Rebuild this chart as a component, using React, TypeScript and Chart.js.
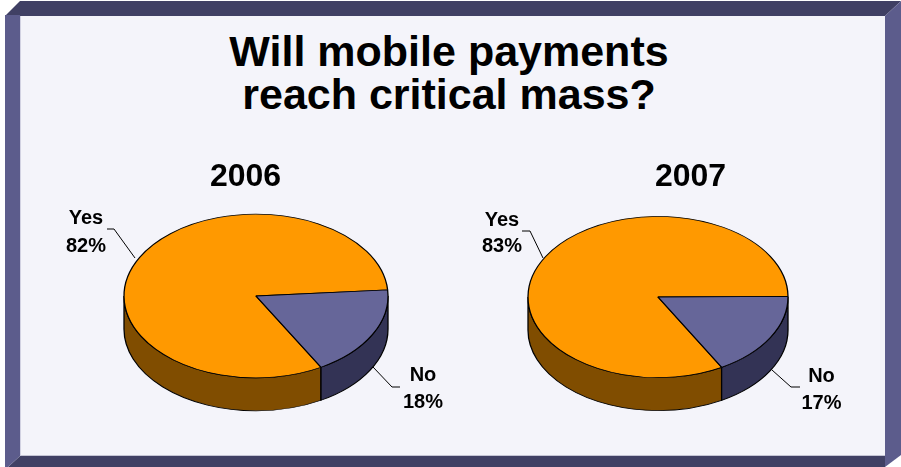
import React, { useEffect, useRef } from "react";
import { Chart, registerables } from "chart.js";

Chart.register(...registerables);

const categories = ["Yes", "No"];
const years = ["2006", "2007"];
const values2006 = [82, 18];
const values2007 = [83, 17];
const sliceColors = ["#ff9900", "#666699"];
const sideColors = ["#804d00", "#333355"];

const FONT = '"Liberation Sans", Arial, sans-serif';
const TILT = 0.62;
const DEPTH = 33;
const RADIUS = [132, 130];
const ROTATION = [150.5, 150.7];
const CANVAS = { width: 400, height: 300, top: 150 };
const CANVAS_LEFT = [56, 458];
const PAD_TOP = 44.4;
const PAD_BOTTOM = [52.4, 50.4];
const YEAR_CENTER = [245.5, 690.5];

type Callout = { line: number[][]; text: number[] };

// Leader lines and label anchors for each slice, in canvas pixels.
const CALLOUTS: Callout[][] = [
  [
    { line: [[79, 108], [58, 79], [51, 79]], text: [30, 68, 96] },
    { line: [[317, 217], [336, 237], [344, 237]], text: [367, 225, 252] },
  ],
  [
    { line: [[85, 108], [72, 81], [64, 81]], text: [44, 70, 96] },
    { line: [[314, 220], [333, 237], [342, 237]], text: [363.5, 226, 253] },
  ],
];

function overlap(a0: number, a1: number, b0: number, b1: number) {
  const lo = Math.max(a0, b0);
  const hi = Math.min(a1, b1);
  return hi > lo ? [lo, hi] : null;
}

// Flattens the pie into an ellipse and extrudes its lower rim.
const tiltedPie = {
  id: "tiltedPie",
  beforeDatasetsDraw(chart: any) {
    const { ctx } = chart;
    const arcs = chart.getDatasetMeta(0).data;
    const { x, y, outerRadius: r } = arcs[0];
    ctx.save();
    ctx.translate(x, y);
    ctx.scale(1, TILT);
    ctx.translate(-x, -y);

    arcs.forEach((arc: any, i: number) => {
      let start = arc.startAngle % (Math.PI * 2);
      if (start < 0) start += Math.PI * 2;
      const end = start + (arc.endAngle - arc.startAngle);
      [0, Math.PI * 2, -Math.PI * 2].forEach((shift) => {
        const seg = overlap(start + shift, end + shift, 0, Math.PI);
        if (!seg) return;
        ctx.beginPath();
        ctx.arc(x, y, r, seg[0], seg[1]);
        ctx.lineTo(x + r * Math.cos(seg[1]), y + r * Math.sin(seg[1]) + DEPTH / TILT);
        ctx.arc(x, y + DEPTH / TILT, r, seg[1], seg[0], true);
        ctx.closePath();
        ctx.fillStyle = sideColors[i];
        ctx.fill();
        ctx.lineWidth = 1.3;
        ctx.strokeStyle = "#000";
        ctx.stroke();
      });
    });
  },
  afterDatasetsDraw(chart: any) {
    chart.ctx.restore();
  },
};

// Leader lines and the two-line category and percentage labels.
const callouts = {
  id: "callouts",
  afterDraw(chart: any, _args: any, opts: any) {
    const { ctx } = chart;
    const values = chart.data.datasets[0].data;
    ctx.save();
    chart.data.labels.forEach((label: string, i: number) => {
      const c: Callout = opts.items[i];
      ctx.beginPath();
      c.line.forEach(([px, py], k) => (k ? ctx.lineTo(px, py) : ctx.moveTo(px, py)));
      ctx.strokeStyle = "#000";
      ctx.lineWidth = 1;
      ctx.stroke();
      ctx.fillStyle = "#000";
      ctx.font = `bold 20px ${FONT}`;
      ctx.textAlign = "center";
      ctx.textBaseline = "middle";
      ctx.fillText(label, c.text[0], c.text[1]);
      ctx.fillText(`${values[i]}%`, c.text[0], c.text[2]);
    });
    ctx.restore();
  },
};

function PieChart({ index, values }: { index: number; values: number[] }) {
  const ref = useRef<HTMLCanvasElement>(null);
  useEffect(() => {
    const chart = new Chart(ref.current!, {
      type: "pie",
      data: {
        labels: categories,
        datasets: [
          {
            data: values,
            backgroundColor: sliceColors,
            borderColor: "#000",
            borderWidth: 1.3,
            radius: RADIUS[index],
          },
        ],
      },
      options: {
        animation: false,
        responsive: false,
        rotation: ROTATION[index],
        layout: { padding: { top: PAD_TOP, bottom: PAD_BOTTOM[index] } },
        plugins: {
          legend: { display: false },
          tooltip: { enabled: false },
          callouts: { items: CALLOUTS[index] },
        },
      } as any,
      plugins: [tiltedPie, callouts],
    });
    return () => chart.destroy();
  }, [index, values]);
  return (
    <>
      <canvas
        ref={ref}
        width={CANVAS.width}
        height={CANVAS.height}
        style={{
          position: "absolute",
          left: CANVAS_LEFT[index],
          top: CANVAS.top,
          width: CANVAS.width,
          height: CANVAS.height,
        }}
      />
      <div
        style={{
          position: "absolute",
          left: YEAR_CENTER[index] - 60,
          width: 120,
          top: 156,
          textAlign: "center",
          font: `bold 32px/38px ${FONT}`,
          color: "#000",
        }}
      >
        {years[index]}
      </div>
    </>
  );
}

function Band({ points, color }: { points: string; color: string }) {
  return (
    <div
      style={{
        position: "absolute",
        inset: 0,
        background: color,
        clipPath: `polygon(${points})`,
      }}
    />
  );
}

export default function App() {
  return (
    <div
      style={{
        position: "fixed",
        left: 0,
        top: 0,
        width: 901,
        height: 467,
        background: "#fff",
        overflow: "hidden",
      }}
    >
      <Band color="#404064" points="20px 1px, 901px 1px, 885px 16px, 5px 16px" />
      <Band color="#404064" points="20px 456px, 885px 456px, 885px 467px, 8px 467px" />
      <Band color="#5c5c8c" points="5px 15px, 20px 15px, 20px 456px, 8px 467px, 5px 467px" />
      <Band color="#5c5c8c" points="885px 16px, 901px 1px, 901px 455px, 885px 467px" />
      <div
        style={{
          position: "absolute",
          left: 20,
          top: 16,
          width: 865,
          height: 440,
          boxSizing: "border-box",
          background: "#f4f4fa",
          borderLeft: "1px solid #d2d2e2",
          borderBottom: "1px solid #c4c4d4",
        }}
      />
      <div
        style={{
          position: "absolute",
          left: 20,
          width: 858,
          top: 30,
          textAlign: "center",
          font: `bold 43px/43px ${FONT}`,
          color: "#000",
        }}
      >
        Will mobile payments
        <br />
        reach critical mass?
      </div>
      <PieChart index={0} values={values2006} />
      <PieChart index={1} values={values2007} />
    </div>
  );
}
